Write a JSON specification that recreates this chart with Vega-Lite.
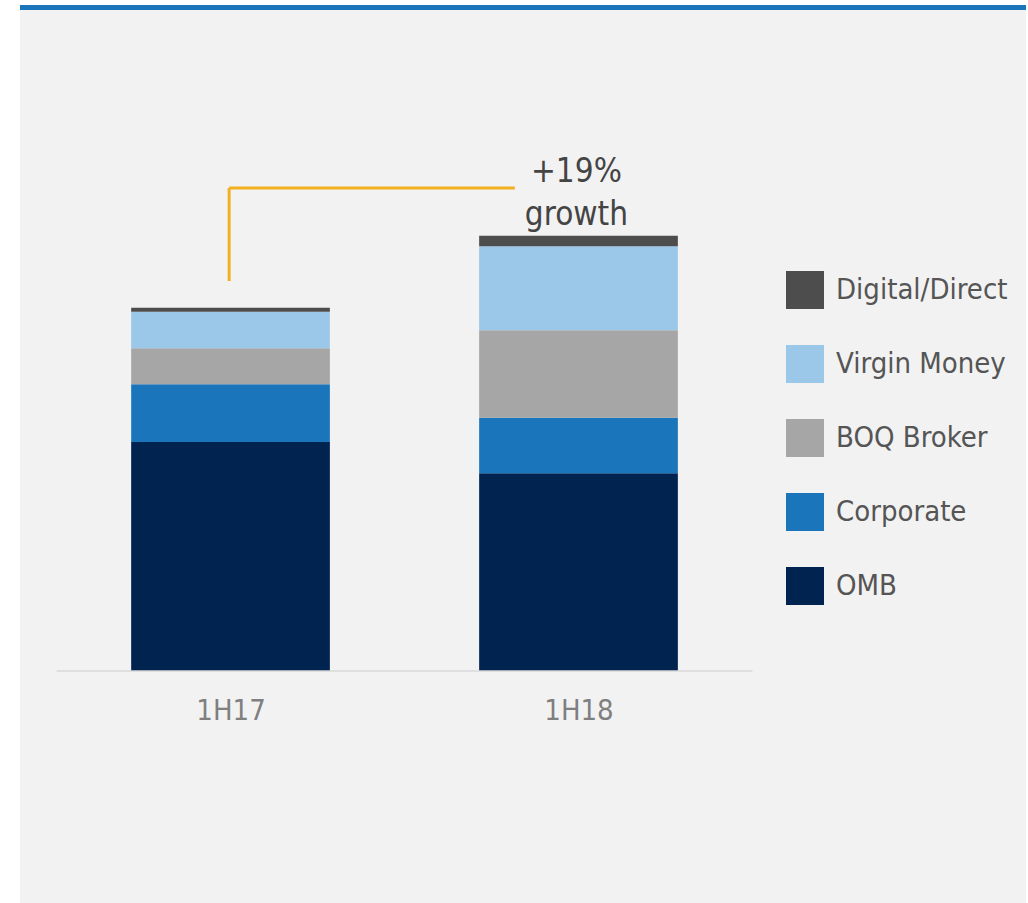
{
  "$schema": "https://vega.github.io/schema/vega-lite/v6.json",
  "width": 1006,
  "height": 898,
  "autosize": {"type": "none"},
  "padding": {"left": 20, "top": 5, "right": 2, "bottom": 0},
  "background": "#ffffff",
  "config": {
    "view": {"fill": "#f2f2f2", "stroke": null},
    "font": "DejaVu Sans Condensed, Liberation Sans Narrow, sans-serif"
  },
  "datasets": {
    "bars": [
      {"period": "1H17", "idx": 0, "segment": "OMB", "rank": 1, "value": 229},
      {"period": "1H17", "idx": 0, "segment": "Corporate", "rank": 2, "value": 57.7},
      {"period": "1H17", "idx": 0, "segment": "BOQ Broker", "rank": 3, "value": 36},
      {"period": "1H17", "idx": 0, "segment": "Virgin Money", "rank": 4, "value": 36.6},
      {"period": "1H17", "idx": 0, "segment": "Digital/Direct", "rank": 5, "value": 4},
      {"period": "1H18", "idx": 1, "segment": "OMB", "rank": 1, "value": 197.7},
      {"period": "1H18", "idx": 1, "segment": "Corporate", "rank": 2, "value": 55.6},
      {"period": "1H18", "idx": 1, "segment": "BOQ Broker", "rank": 3, "value": 87.4},
      {"period": "1H18", "idx": 1, "segment": "Virgin Money", "rank": 4, "value": 84},
      {"period": "1H18", "idx": 1, "segment": "Digital/Direct", "rank": 5, "value": 10.6}
    ],
    "connector": [
      {"start": -0.004, "end": 0.817, "low": 390, "high": 483}
    ],
    "note": [
      {"idx": 0.994, "line": "+19%", "value": 489},
      {"idx": 0.994, "line": "growth", "value": 446}
    ],
    "base": [
      {"start": -0.5, "end": 1.5, "value": 0}
    ],
    "band": [
      {"value": 663.5}
    ]
  },
  "layer": [
    {
      "data": {"name": "bars"},
      "mark": {"type": "bar", "width": 198.7},
      "encoding": {
        "x": {
          "field": "idx",
          "type": "quantitative",
          "scale": {"domain": [-0.605, 2.286], "nice": false, "zero": false, "padding": 0},
          "axis": {
            "title": null,
            "orient": "bottom",
            "offset": -232,
            "values": [0, 1],
            "labelExpr": "datum.value == 0 ? '1H17' : '1H18'",
            "domain": false,
            "ticks": false,
            "grid": false,
            "labelFlush": false,
            "labelPadding": 25,
            "labelFontSize": 29,
            "labelColor": "#7f7f7f"
          }
        },
        "y": {
          "field": "value",
          "type": "quantitative",
          "stack": "zero",
          "scale": {"domain": [-232, 666], "nice": false, "zero": false},
          "axis": null
        },
        "order": {"field": "rank", "type": "quantitative"},
        "color": {
          "field": "segment",
          "type": "nominal",
          "scale": {
            "domain": ["Digital/Direct", "Virgin Money", "BOQ Broker", "Corporate", "OMB"],
            "range": ["#4d4d4d", "#9bc7e8", "#a6a6a6", "#1b75bb", "#002350"]
          },
          "legend": {
            "title": null,
            "orient": "none",
            "legendX": 766,
            "legendY": 266,
            "padding": 0,
            "symbolType": "square",
            "symbolSize": 1444,
            "symbolStrokeWidth": 0,
            "symbolOpacity": 1,
            "labelFontSize": 29,
            "labelLimit": 400,
            "labelColor": "#555555",
            "labelOffset": 12,
            "rowPadding": 36
          }
        }
      }
    },
    {
      "data": {"name": "band"},
      "mark": {"type": "rule", "color": "#1b75bb", "strokeWidth": 5},
      "encoding": {
        "y": {"field": "value", "type": "quantitative"}
      }
    },
    {
      "data": {"name": "base"},
      "mark": {"type": "rule", "color": "#d9d9d9", "strokeWidth": 1.5},
      "encoding": {
        "x": {"field": "start", "type": "quantitative"},
        "x2": {"field": "end"},
        "y": {"field": "value", "type": "quantitative"}
      }
    },
    {
      "data": {"name": "connector"},
      "mark": {"type": "rule", "color": "#f2b01e", "strokeWidth": 3},
      "encoding": {
        "x": {"field": "start", "type": "quantitative"},
        "y": {"field": "low", "type": "quantitative"},
        "y2": {"field": "high"}
      }
    },
    {
      "data": {"name": "connector"},
      "mark": {"type": "rule", "color": "#f2b01e", "strokeWidth": 3},
      "encoding": {
        "x": {"field": "start", "type": "quantitative"},
        "x2": {"field": "end"},
        "y": {"field": "high", "type": "quantitative"}
      }
    },
    {
      "data": {"name": "note"},
      "mark": {"type": "text", "fontSize": 33, "color": "#444444", "baseline": "alphabetic", "align": "center"},
      "encoding": {
        "x": {"field": "idx", "type": "quantitative"},
        "y": {"field": "value", "type": "quantitative"},
        "text": {"field": "line"}
      }
    }
  ]
}
